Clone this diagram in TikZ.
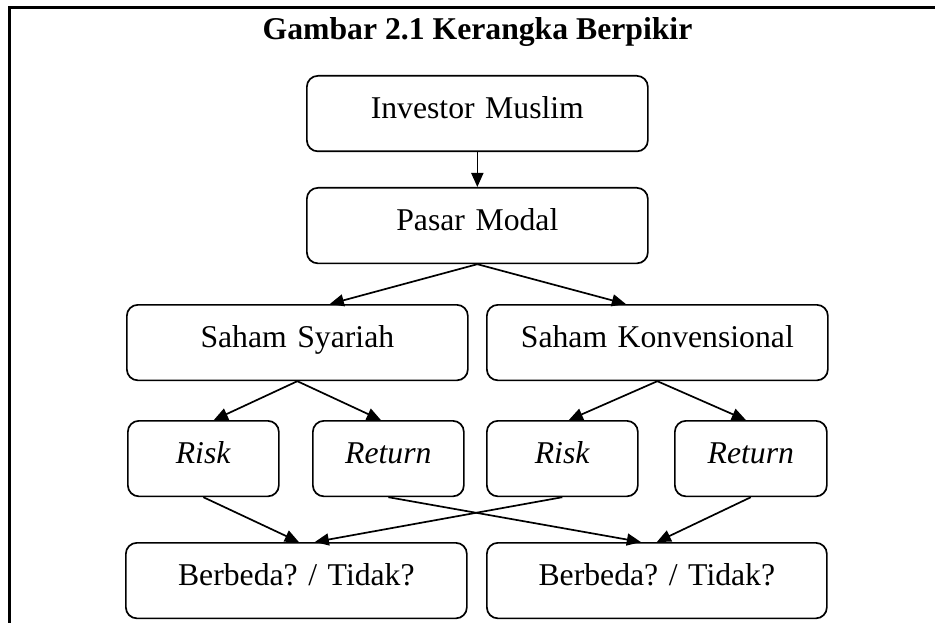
\documentclass[tikz,border=0pt]{standalone}
\usepackage{fontspec}
\setmainfont{Liberation Serif}
\usetikzlibrary{arrows.meta,calc}
\begin{document}
\frenchspacing
\begin{tikzpicture}[x=1pt,y=-1pt,
  box/.style={draw,line width=1.7pt,rounded corners=11pt,inner sep=0pt,
    anchor=north west,align=center,text height=43pt,text depth=32.5pt,
    font=\fontsize{31.7}{38}\selectfont},
  conn/.style={line width=1.7pt,-{Triangle[length=14pt,width=12pt]}},
  frame/.style={line width=2.2pt}]
\useasboundingbox (0,0) rectangle (935,623);
\coordinate (fb) at (9.5,623);
\coordinate (fc) at (9.5,7.5);
\coordinate (fr) at (935,7.5);
\draw[frame] (fb) -- (fc) -- (fr);
\node[anchor=base,font=\fontsize{31.7}{38}\selectfont\bfseries] (title) at (477.5,40) {Gambar 2.1 Kerangka Berpikir};
\node[box,text width=341pt] (im) at (306,75) {Investor Muslim};
\node[box,text width=341pt] (pm) at (306,187) {Pasar Modal};
\node[box,text width=341pt] (sy) at (126,304) {Saham Syariah};
\node[box,text width=341pt] (sk) at (486,304) {Saham Konvensional};
\node[box,text width=151pt] (r1) at (127,420) {\textit{Risk}};
\node[box,text width=151pt] (t1) at (312,420) {\textit{Return}};
\node[box,text width=151pt] (r2) at (486,420) {\textit{Risk}};
\node[box,text width=152pt] (t2) at (674,420) {\textit{Return}};
\node[box,text width=341pt] (b1) at (125,542) {Berbeda? / Tidak?};
\node[box,text width=340pt] (b2) at (486,542) {Berbeda? / Tidak?};
\draw[conn] (im.south) -- (pm.north);
\draw[conn] (pm.south) -- ($(sy.north)+(32.5,0)$);
\draw[conn] (pm.south) -- ($(sk.north)+(-31.5,0)$);
\draw[conn] (sy.south) -- ($(r1.north)+(10.5,0)$);
\draw[conn] (sy.south) -- ($(t1.north)+(-7.5,0)$);
\draw[conn] (sk.south) -- ($(r2.north)+(6.5,0)$);
\draw[conn] (sk.south) -- ($(t2.north)+(-5,0)$);
\draw[conn] (r1.south) -- ($(b1.north)+(2.5,0)$);
\draw[conn] (r2.south) -- ($(b1.north)+(18.5,0)$);
\draw[conn] (t1.south) -- ($(b2.north)+(-16,0)$);
\draw[conn] (t2.south) -- ($(b2.north)+(0,0)$);
\end{tikzpicture}
\end{document}
